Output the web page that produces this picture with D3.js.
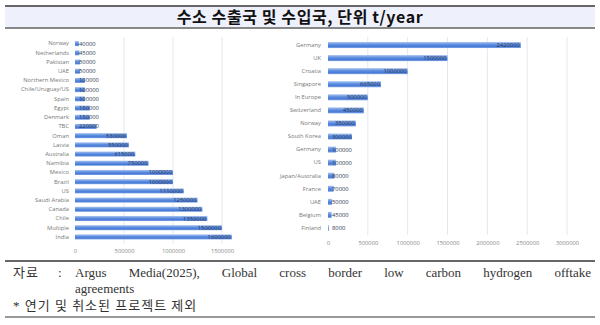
<!DOCTYPE html>
<html><head><meta charset="utf-8">
<script src="https://cdn.jsdelivr.net/npm/d3@7"></script>
<style>
html,body{margin:0;padding:0;background:#fff;}
svg{display:block;}
</style></head>
<body><svg id="c" width="600" height="325"></svg>
<script>
const exportCountries = ["Norway","Netherlands","Pakistan","UAE","Northern Mexico","Chile/Uruguay/US","Spain","Egypt","Denmark","TBC","Oman","Latvia","Australia","Namibia","Mexico","Brazil","US","Saudi Arabia","Canada","Chile","Multiple","India"];
const exportValues = [40000,45000,50000,50000,100000,100000,100000,150000,150000,220000,530000,550000,615000,750000,1000000,1000000,1110000,1250000,1300000,1350000,1500000,1600000];
const exportTicks = [0,500000,1000000,1500000];

const importCountries = ["Germany","UK","Croatia","Singapore","In Europe","Switzerland","Norway","South Korea","Germany","US","Japan/Australia","France","UAE","Belgium","Finland"];
const importValues = [2420000,1500000,1000000,665000,500000,450000,350000,300000,100000,100000,80000,70000,50000,45000,8000];
const importTicks = [0,500000,1000000,1500000,2000000,2500000,3000000];

const titleText = "수소 수출국 및 수입국, 단위 t/year";
const sourceLabel = "자료";
const sourceWords = ["Argus","Media(2025),","Global","cross","border","low","carbon","hydrogen","offtake"];
const sourceLine2 = "agreements";
const noteText = "* 연기 및 취소된 프로젝트 제외";

const svg = d3.select("#c");
const defs = svg.append("defs");
const g = defs.append("linearGradient").attr("id","barGrad").attr("x1",0).attr("y1",0).attr("x2",0).attr("y2",1);
g.append("stop").attr("offset","0%").attr("stop-color","#a9c4f0");
g.append("stop").attr("offset","45%").attr("stop-color","#5a8be0");
g.append("stop").attr("offset","75%").attr("stop-color","#4a7bd6");
g.append("stop").attr("offset","100%").attr("stop-color","#7fa5e8");

// Title band
svg.append("rect").attr("x",5).attr("y",6).attr("width",590).attr("height",21).attr("fill","#eef0fb");
svg.append("line").attr("x1",5).attr("x2",595).attr("y1",6).attr("y2",6).attr("stroke","#666").attr("stroke-width",2);
svg.append("line").attr("x1",5).attr("x2",595).attr("y1",28).attr("y2",28).attr("stroke","#888").attr("stroke-width",2.2);
svg.append("text").attr("x",300).attr("y",22.5).attr("text-anchor","middle")
  .attr("font-family","'Noto Sans CJK KR', sans-serif").attr("font-weight","bold").attr("font-size",16)
  .attr("letter-spacing",0.6).attr("fill","#111").text(titleText);

function drawChart(cfg){
  const {cats, vals, ticks, x0, xTick, tickVal, y0, y1, pad, tickY, gridTop, gridBot, labelRight} = cfg;
  const x = d3.scaleLinear().domain([0, tickVal]).range([x0, xTick]);
  const y = d3.scaleBand().domain(d3.range(cats.length)).range([y0, y1]).paddingInner(pad).paddingOuter(pad/2);
  const grp = svg.append("g");
  grp.selectAll("line.grid").data(ticks.filter(t=>t>0)).join("line")
    .attr("x1",d=>x(d)).attr("x2",d=>x(d)).attr("y1",gridTop).attr("y2",gridBot)
    .attr("stroke","#e3e8f0").attr("stroke-width",1);
  const ax = d3.axisBottom(x).tickValues(ticks).tickSize(0).tickFormat(d3.format("d"));
  const axG = grp.append("g").attr("transform",`translate(0,${tickY})`).call(ax);
  axG.select(".domain").remove();
  axG.selectAll("text").attr("font-family","'Open Sans', sans-serif").attr("font-size",5.8).attr("fill","#888").attr("dy","0.35em").attr("y",0);
  const ay = d3.axisLeft(y).tickSize(0).tickFormat(i=>cats[i]);
  const ayG = grp.append("g").attr("transform",`translate(${labelRight},0)`).call(ay);
  ayG.select(".domain").remove();
  ayG.selectAll("text").attr("font-family","'Open Sans', sans-serif").attr("font-size",5.8).attr("fill","#777").attr("x",0);
  grp.selectAll("rect.bar").data(vals).join("rect")
    .attr("x",x(0)).attr("y",(d,i)=>y(i)).attr("width",d=>Math.max(0.8,x(d)-x(0))).attr("height",y.bandwidth())
    .attr("fill","url(#barGrad)");
  const fmt = d3.format("d");
  grp.selectAll("text.val").data(vals).join("text")
    .attr("font-family","'Open Sans', sans-serif").attr("font-size",5.8).attr("fill","#2a3550")
    .attr("text-anchor","end").attr("dy","0.35em")
    .attr("y",(d,i)=>y(i)+y.bandwidth()/2)
    .text(d=>fmt(d))
    .attr("x",function(d){ const tw=this.getComputedTextLength(); return Math.max(x(d)-1, x(0)+tw+4); });
}

drawChart({cats:exportCountries, vals:exportValues, ticks:exportTicks, x0:75, xTick:222, tickVal:1500000,
  y0:39, y1:241.5, pad:0.45, tickY:251, gridTop:37, gridBot:244, labelRight:69});
drawChart({cats:importCountries, vals:importValues, ticks:importTicks, x0:328, xTick:567, tickVal:3000000,
  y0:38.5, y1:234.5, pad:0.54, tickY:242.5, gridTop:37, gridBot:235, labelRight:321});

// Footer
svg.append("line").attr("x1",5).attr("x2",595).attr("y1",261).attr("y2",261).attr("stroke","#666").attr("stroke-width",2);
svg.append("line").attr("x1",5).attr("x2",595).attr("y1",317).attr("y2",317).attr("stroke","#777").attr("stroke-width",1.5);
const ff = "'Liberation Serif','Noto Sans CJK KR', serif";
const fs = 13;
svg.append("text").attr("x",13).attr("y",277).attr("font-family",ff).attr("font-size",fs).attr("letter-spacing",1).attr("fill","#333").text(sourceLabel);
svg.append("text").attr("x",58).attr("y",277).attr("font-family",ff).attr("font-size",fs).attr("fill","#333").text(":");
const words = svg.append("g").selectAll("text").data(sourceWords).join("text")
  .attr("y",277).attr("font-family",ff).attr("font-size",fs).attr("fill","#333").text(d=>d);
const widths = []; words.each(function(){ widths.push(this.getComputedTextLength()); });
const startX = 75, endX = 591;
const total = d3.sum(widths);
const gap = (endX - startX - total)/(sourceWords.length-1);
let cx = startX;
words.each(function(d,i){ d3.select(this).attr("x",cx); cx += widths[i] + gap; });
svg.append("text").attr("x",75).attr("y",293).attr("font-family",ff).attr("font-size",fs).attr("fill","#333").text(sourceLine2);
svg.append("text").attr("x",13).attr("y",310).attr("font-family",ff).attr("font-size",fs).attr("letter-spacing",1).attr("fill","#333").text(noteText);
</script></body></html>
